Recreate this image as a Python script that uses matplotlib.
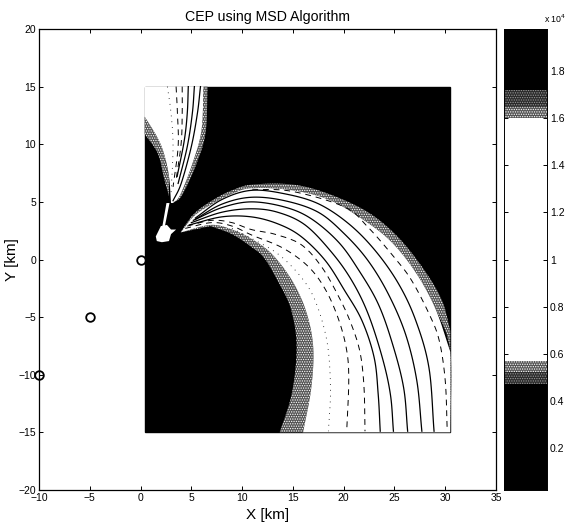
import matplotlib
matplotlib.use('Agg')
import matplotlib.pyplot as plt
import numpy as np

plt.rcParams['font.family'] = ['Liberation Sans', 'DejaVu Sans']
plt.rcParams['hatch.linewidth'] = 0.6

# emisores (km)
sens_x = [0, -5, -10]
sens_y = [0, -5, -10]

xticks = [-10, -5, 0, 5, 10, 15, 20, 25, 30, 35]
yticks = [-20, -15, -10, -5, 0, 5, 10, 15, 20]
cb_ticks = [0.2, 0.4, 0.6, 0.8, 1, 1.2, 1.4, 1.6, 1.8]
cb_labels = ['0.2', '0.4', '0.6', '0.8', '1', '1.2', '1.4', '1.6', '1.8']

# bordes del arco grande
blanco_ext = [(3.96, 2.35), (5.3, 3.8), (7.2, 4.9), (9, 5.7), (11, 6.2), (15, 6.0), (18.5, 5.2),
              (21.5, 3.7), (24.5, 1.7), (27, -1.0), (29, -4.2), (30.5, -8)]
gris_ext = [(3.96, 2.4), (5.3, 4.0), (7.2, 5.2), (9, 6.0), (11, 6.5), (15, 6.5), (18.5, 5.7),
            (22.4, 4.1), (25.4, 1.9), (28, -1.0), (29.7, -3.6), (30.5, -6.2)]
blanco_int = [(3.96, 2.35), (6.9, 3.0), (9, 2.6), (10.9, 1.8), (12.9, 0.5), (14.9, -1.8), (16.3, -4.5),
              (17, -7.6), (16.8, -11.2), (16, -15)]
gris_int = [(6.9, 2.9), (9, 2.2), (10.9, 1.1), (12.2, 0.1), (13.6, -2), (14.7, -4), (15.3, -6.5),
            (15.3, -9), (14.8, -12), (13.7, -15)]

# bordes de la pluma superior
pluma_der = [(6.2, 15), (6.0, 11.2), (5.1, 8.3), (3.9, 5.6), (3.2, 4.9)]
pluma_der_gris = [(6.6, 15), (6.4, 11), (5.5, 8.3), (4.1, 5.6), (3.2, 4.9)]
pluma_izq = [(0.4, 12.4), (1.65, 10.6), (2.3, 9.2), (2.8, 7.2), (3.0, 4.9)]
pluma_izq_gris = [(0.4, 10.9), (1.7, 9.2), (2.3, 7.1), (2.8, 5.5)]
tallo = [(2.55, 4.9), (2.85, 4.9), (2.4, 2.9), (2.15, 2.9)]
mancha = [(1.5, 2.0), (2.0, 2.9), (2.6, 3.0), (3.0, 2.6), (3.5, 2.6), (3.0, 2.2), (2.8, 1.6), (2.1, 1.5), (1.6, 1.6)]

# isolineas del arco
arco_a = [(5.4, 3.6), (8, 5.2), (10.9, 6.0), (14.2, 5.7), (17.5, 4.84), (20.5, 3.1), (23.1, 0.78),
          (25.4, -2.1), (27.1, -5.3), (28.4, -9.4), (28.9, -14.9)]
arco_b = [(5.4, 3.5), (8, 4.8), (10.9, 5.4), (14.2, 5.1), (17.5, 4.1), (20.1, 2.2), (22.4, -0.1),
          (24.4, -3.0), (26.1, -6.5), (27.2, -10.5), (27.7, -14.9)]
arco_c = [(5.2, 3.4), (8, 4.5), (10.9, 5.0), (14.2, 4.55), (16.8, 3.54), (19.5, 1.5), (21.5, -0.95),
          (23.4, -3.85), (24.8, -7.3), (25.9, -11.1), (26.3, -14.9)]
arco_d = [(5.0, 3.2), (8, 4.1), (10.9, 4.4), (13.5, 4.1), (16.2, 3.0), (18.8, 0.64), (20.8, -1.83),
          (22.4, -4.7), (23.8, -8.5), (24.6, -11.7), (24.9, -14.9)]
arco_e = [(4.8, 3.0), (8, 3.7), (10.9, 3.7), (13.5, 3.1), (15.8, 2.0), (18.2, -0.1), (20.1, -2.7),
          (21.8, -5.3), (23, -8.5), (23.4, -11.7), (23.6, -14.9)]
arco_f = [(4.6, 2.9), (7, 3.4), (9, 3.2), (10.9, 2.6), (13.2, 2.2), (15.8, 1.3), (17.8, -0.6), (19.5, -3.2),
          (20.7, -5.5), (21.6, -8), (22, -11), (22.1, -14.9)]
arco_g = [(4.4, 2.7), (7, 3.2), (9, 2.9), (11, 2.1), (14, 1.0), (16.5, -0.6), (18.2, -2.6), (19.5, -5.2),
          (20.3, -7.9), (20.5, -10.5), (20.3, -14.9)]
arco_h = [(9, 2.7), (11, 1.8), (13.5, 0.5), (15.5, -1.2), (16.9, -3), (17.9, -5.4), (18.5, -8),
          (18.7, -11.5), (18.5, -14.9)]
arco_i = [(11, 6.1), (15, 5.9), (20.1, 4.55), (22.4, 2.8), (25.1, 0.06), (26.7, -1.83), (28.4, -4.7),
          (29.4, -7), (30, -10.5), (30.2, -14.9)]

# isolineas de la pluma
pluma_1 = [(5.9, 15), (5.6, 12.7), (5.0, 9.8), (4.0, 6.6), (3.2, 5.1)]
pluma_2 = [(5.3, 15), (5.1, 12.7), (4.6, 9.8), (3.7, 6.6)]
pluma_3 = [(4.7, 15), (4.6, 12.7), (4.3, 10.3), (3.6, 7.2)]
pluma_4 = [(4.1, 15), (4.1, 12.7), (4.0, 10.1), (3.5, 6.9)]
pluma_5 = [(3.5, 15), (3.63, 12.7), (3.7, 9.8), (3.2, 6.3)]
pluma_6 = [(2.64, 15), (3.0, 12.7), (3.2, 9.8), (3.0, 5.7)]

lineas_solidas = [arco_a, arco_b, arco_c, arco_d, arco_e, pluma_1, pluma_2, pluma_3]
lineas_rayadas = [arco_f, arco_g, arco_i, pluma_4, pluma_5]
lineas_puntos = [arco_h, pluma_6]

# barra de color: limites de cada banda (x 10^4)
cb_min, cb_max = 0.02, 1.98
cb_blanco = (0.57, 1.6)
cb_bajo_denso = (0.52, 0.57)
cb_bajo_ralo = (0.47, 0.52)
cb_alto_denso = (1.6, 1.65)
cb_alto_ralo = (1.65, 1.72)


# suaviza una polilinea (Catmull-Rom) solo para que no se vea quebrada
def suave(puntos, n=12):
    p = np.array(puntos, dtype=float)
    p = np.vstack([2 * p[0] - p[1], p, 2 * p[-1] - p[-2]])
    salida = []
    for i in range(1, len(p) - 2):
        for t in np.linspace(0, 1, n, endpoint=False):
            salida.append(0.5 * (2 * p[i] + (p[i + 1] - p[i - 1]) * t
                                 + (2 * p[i - 1] - 5 * p[i] + 4 * p[i + 1] - p[i + 2]) * t ** 2
                                 + (3 * p[i] - p[i - 1] - 3 * p[i + 1] + p[i + 2]) * t ** 3))
    salida.append(p[-2])
    return np.array(salida)


def entre(ax, borde_a, borde_b, **kw):
    a = suave(borde_a)
    b = suave(borde_b)[::-1]
    c = np.vstack([a, b])
    ax.fill(c[:, 0], c[:, 1], **kw)


def trazar(ax, puntos, **kw):
    c = suave(puntos)
    ax.plot(c[:, 0], c[:, 1], color='black', **kw)


estilo_gris = dict(facecolor='#555555', edgecolor='white', hatch='.......', lw=0)
estilo_ralo = dict(facecolor='#2a2a2a', edgecolor='#999999', hatch='.......', lw=0)

fig = plt.figure(figsize=(5.68, 5.23), dpi=100, facecolor='white')
ax = fig.add_axes([39 / 568, 1 - 490 / 523, 457 / 568, 461 / 523])
ax.set_xlim(-10, 35)
ax.set_ylim(-20, 20)

ax.plot(sens_x, sens_y, 'o', mfc='none', mec='black', ms=6.2, mew=1.3, clip_on=False, zorder=1)

# fondo negro del mapa
ax.fill([0.4, 30.5, 30.5, 0.4], [-15, -15, 15, 15], color='black', zorder=2)

entre(ax, blanco_ext + [(30.5, -15)], gris_ext, zorder=3, **estilo_gris)
entre(ax, blanco_int, gris_int, zorder=3, **estilo_gris)
entre(ax, pluma_izq[:4], pluma_izq_gris, zorder=3, **estilo_gris)
entre(ax, pluma_der, pluma_der_gris, zorder=3, **estilo_gris)

# zona blanca: borde exterior, borde derecho del mapa y borde interior
ext = suave(blanco_ext)
inte = suave(blanco_int)
ax.fill(np.r_[ext[:, 0], 30.5, inte[::-1, 0]], np.r_[ext[:, 1], -15, inte[::-1, 1]], color='white', lw=0, zorder=4)
der = suave(pluma_der)
izq = suave(pluma_izq)
ax.fill(np.r_[0.4, der[:, 0], izq[::-1, 0]], np.r_[15, der[:, 1], izq[::-1, 1]], color='white', lw=0, zorder=4)
for zona in [tallo, mancha]:
    xs, ys = zip(*zona)
    ax.fill(xs, ys, color='white', lw=0, zorder=4)

for l in lineas_solidas:
    trazar(ax, l, lw=0.9, zorder=5)
for l in lineas_rayadas:
    trazar(ax, l, lw=0.7, ls=(0, (6, 5)), zorder=5)
for l in lineas_puntos:
    trazar(ax, l, lw=0.6, ls=(0, (1, 6)), zorder=5)

ax.set_xticks(xticks)
ax.set_yticks(yticks)
ax.tick_params(direction='in', length=3, width=0.7, labelsize=7.5, pad=2, top=True, right=True)
ax.set_xlabel('X [km]', fontsize=11, labelpad=4)
ax.set_ylabel('Y [km]', fontsize=11, labelpad=0)
ax.set_title('CEP using MSD Algorithm', fontsize=10.2, pad=6)
for s in ax.spines.values():
    s.set_linewidth(0.9)

# barra de color
cax = fig.add_axes([504 / 568, 1 - 490 / 523, 43 / 568, 461 / 523])
cax.set_xlim(0, 1)
cax.set_ylim(cb_min, cb_max)
cax.set_facecolor('black')
cax.fill_between([0, 1], *cb_blanco, color='white', lw=0)
cax.fill_between([0, 1], *cb_bajo_denso, **estilo_gris)
cax.fill_between([0, 1], *cb_bajo_ralo, **estilo_ralo)
cax.fill_between([0, 1], *cb_alto_denso, **estilo_gris)
cax.fill_between([0, 1], *cb_alto_ralo, **estilo_ralo)
cax.set_xticks([])
cax.yaxis.tick_right()
cax.set_yticks(cb_ticks)
cax.set_yticklabels(cb_labels)
cax.tick_params(direction='in', length=3, width=0.7, labelsize=7.5, pad=2, left=True)
for s in cax.spines.values():
    s.set_linewidth(0.7)
fig.text(566 / 568, 1 - 25 / 523, 'x 10$^4$', fontsize=6.3, va='bottom', ha='right')

fig.savefig('out.png', dpi=100, facecolor='white')
